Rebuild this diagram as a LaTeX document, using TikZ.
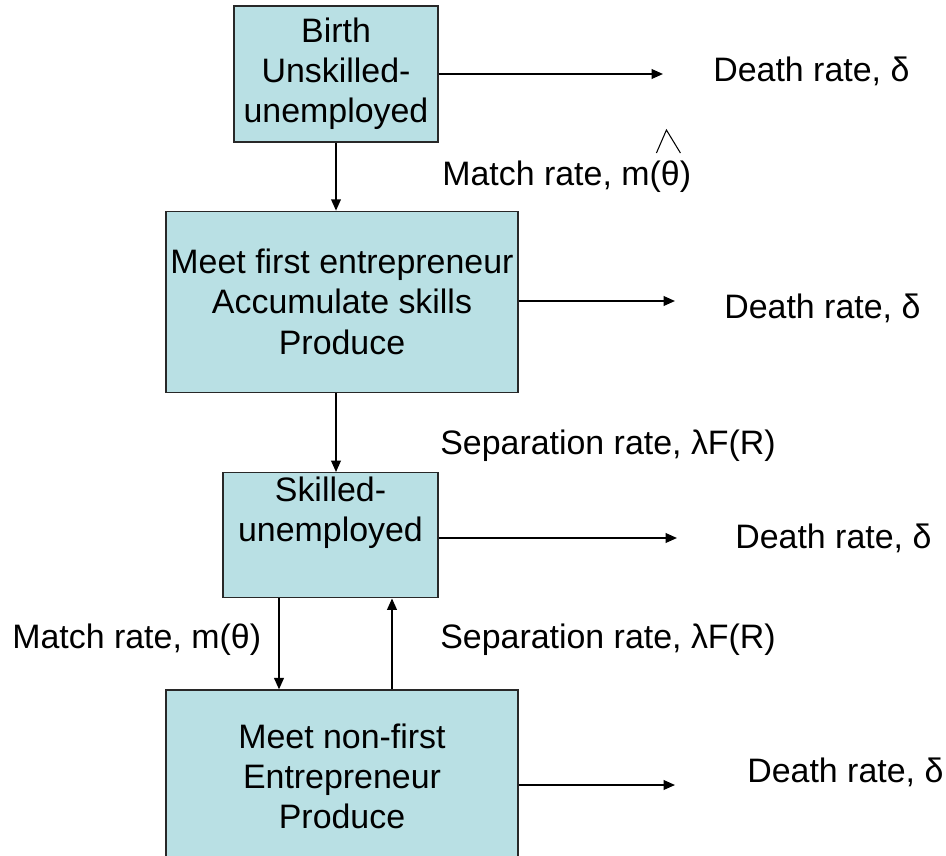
\documentclass[tikz,border=0pt]{standalone}
\usepackage{fontspec}
\setmainfont{Liberation Sans}
\usepackage{tikz}
\usetikzlibrary{arrows.meta, positioning, calc}
\definecolor{state_col}{RGB}{185, 224, 228}
\definecolor{edge_col}{RGB}{40, 40, 40}

\begin{document}
\begin{tikzpicture}[x=0.02cm, y=-0.02cm,
    >={Triangle[length=6.5pt, width=5.5pt]},
    font=\fontsize{19.3}{22.8}\selectfont,
    every node/.style={align=center},
    state/.style={draw=edge_col, line width=0.8pt, fill=state_col, inner sep=0pt},
    rate/.style={anchor=base west, inner sep=0pt},
    flow/.style={->, line width=1pt}]
  \useasboundingbox (0,0) rectangle (946,855);
  \clip (0,0) rectangle (946,855);

  % the four states
  \node[state, minimum width=4.08cm, minimum height=2.72cm] (unsk) at (336,74)
    {Birth\\Unskilled-\\unemployed};
  \node[state, minimum width=7.04cm, minimum height=3.62cm,
        below=1.36cm of unsk, xshift=0.12cm] (first)
    {Meet first entrepreneur\\Accumulate skills\\Produce};
  \node[state, minimum width=4.30cm, minimum height=2.5cm,
        below=1.58cm of first, xshift=-0.23cm] (skil)
    {Skilled-\\unemployed\\\strut};
  \node[state, minimum width=7.04cm, minimum height=3.44cm,
        below=1.82cm of skil, xshift=0.23cm] (nonf)
    {Meet non-first\\Entrepreneur\\Produce};

  % exits
  \node[rate] (d1) at (713,82) {Death rate, δ};
  \node[rate] (d2) at (724,318) {Death rate, δ};
  \node[rate] (d3) at (735,548) {Death rate, δ};
  \node[rate] (d4) at (747,782) {Death rate, δ};
  \coordinate (t1) at (663,74);
  \coordinate (t2) at (675,301);
  \coordinate (t3) at (677,538);
  \coordinate (t4) at (675,785);
  \draw[flow] (unsk.east |- t1) -- (t1);
  \draw[flow] (first.east |- t2) -- (t2);
  \draw[flow] (skil.east |- t3) -- (t3);
  \draw[flow] (nonf.east |- t4) -- (t4);

  % transitions
  \draw[flow] (unsk) -- (unsk |- first.north);
  \draw[flow] (first.south -| unsk) -- (skil.north -| unsk);
  \coordinate (dn) at ($(skil.south)+(-51.5,0)$);
  \coordinate (up) at ($(skil.south)+(61.5,0)$);
  \draw[flow] (dn) -- (dn |- nonf.north);
  \draw[flow] (up |- nonf.north) -- (up);

  \node[rate] (m1) at (442,185) {Match rate, m(θ)};
  \draw[line width=0.6pt] ($(m1.base east)+(-35,-32)$) -- ++(10,-23) -- ++(14,23);
  \node[rate] (s1) at (440,454) {Separation rate, λF(R)};
  \node[rate] (m2) at (12,648) {Match rate, m(θ)};
  \node[rate] (s2) at (440,648) {Separation rate, λF(R)};
\end{tikzpicture}
\end{document}
